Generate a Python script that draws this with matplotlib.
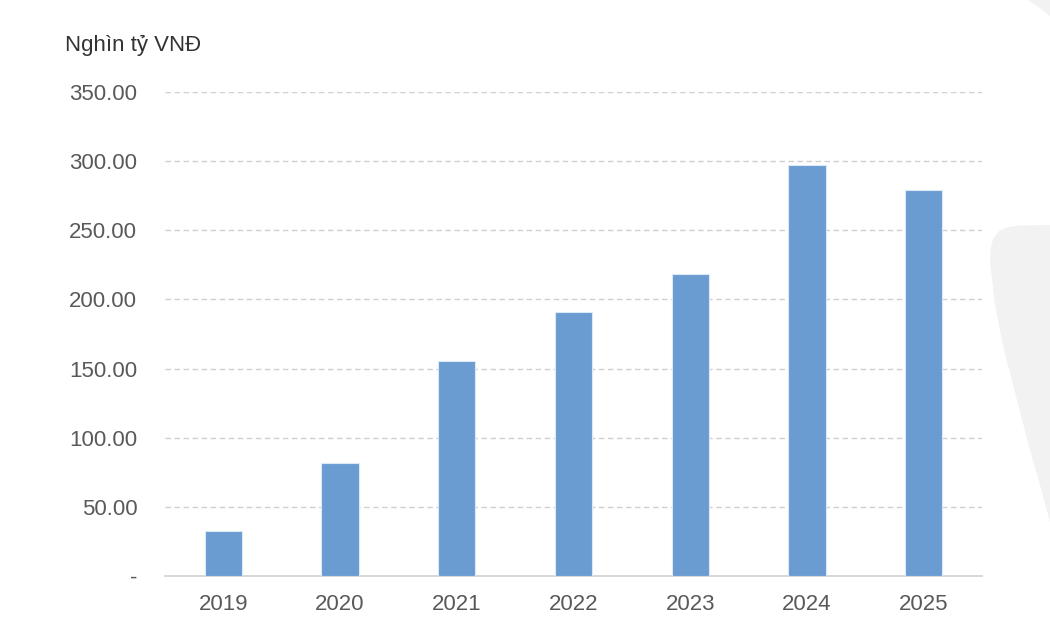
import matplotlib
matplotlib.use("Agg")
import matplotlib.pyplot as plt
from matplotlib.patches import Polygon

years = ["2019", "2020", "2021", "2022", "2023", "2024", "2025"]
values = [32.5, 81.7, 155.5, 190.9, 218.4, 297.2, 279.1]
yticks = [0, 50, 100, 150, 200, 250, 300, 350]
ytick_labels = ["-", "50.00", "100.00", "150.00", "200.00", "250.00", "300.00", "350.00"]
unit_label = "Nghìn tỷ VNĐ"

plt.rcParams['font.family'] = ['Liberation Sans', 'DejaVu Sans']
text_color = "#595959"

fig = plt.figure(figsize=(10.5, 6.3), dpi=100)
fig.patch.set_facecolor("white")

# decorative light grey shape on the right
W, H = 1050, 630
pts = [(990, 262), (990.5, 250), (993, 239), (999, 231), (1008, 227), (1020, 225.5),
       (1050, 225), (1050, 522), (1040, 485), (1030, 450), (1017, 400),
       (1004, 350), (995, 305)]
shape = Polygon([(x / W, 1 - y / H) for x, y in pts], closed=True,
                transform=fig.transFigure, facecolor="#f2f2f2",
                edgecolor="none", zorder=0)
fig.patches.append(shape)
pts2 = [(1028, 0), (1050, 0), (1050, 16), (1040, 8)]
fig.patches.append(Polygon([(x / W, 1 - y / H) for x, y in pts2], closed=True,
                           transform=fig.transFigure, facecolor="#f2f2f2",
                           edgecolor="none", zorder=0))

ax = fig.add_axes([165 / W, 1 - 576 / H, (982 - 165) / W, (576 - 92) / H])
ax.set_facecolor("none")

x = range(len(years))
ax.bar(x, values, width=0.32, color="#6A9BD1", edgecolor="#dbe8f6",
       linewidth=0.8, zorder=3)

ax.set_xlim(-0.5, len(years) - 0.5)
ax.set_ylim(0, 350)
ax.set_yticks(yticks)
ax.set_yticklabels(ytick_labels)
ax.set_xticks(list(x))
ax.set_xticklabels(years)

for y in yticks[1:]:
    ax.axhline(y, color="#d0d0d0", linestyle=(0, (4, 2.5)), linewidth=1.0, zorder=1)

for s in ["top", "right", "left"]:
    ax.spines[s].set_visible(False)
ax.spines["bottom"].set_color("#d0d0d0")
ax.spines["bottom"].set_linewidth(1.2)

ax.tick_params(axis="both", length=0, labelsize=16, colors=text_color)
ax.tick_params(axis="y", pad=20)
ax.tick_params(axis="x", pad=13)

fig.text(65 / W, 1 - 45 / H, unit_label, fontsize=16, color="#333333",
         ha="left", va="center")

fig.savefig("out.png", dpi=100, facecolor="white")
